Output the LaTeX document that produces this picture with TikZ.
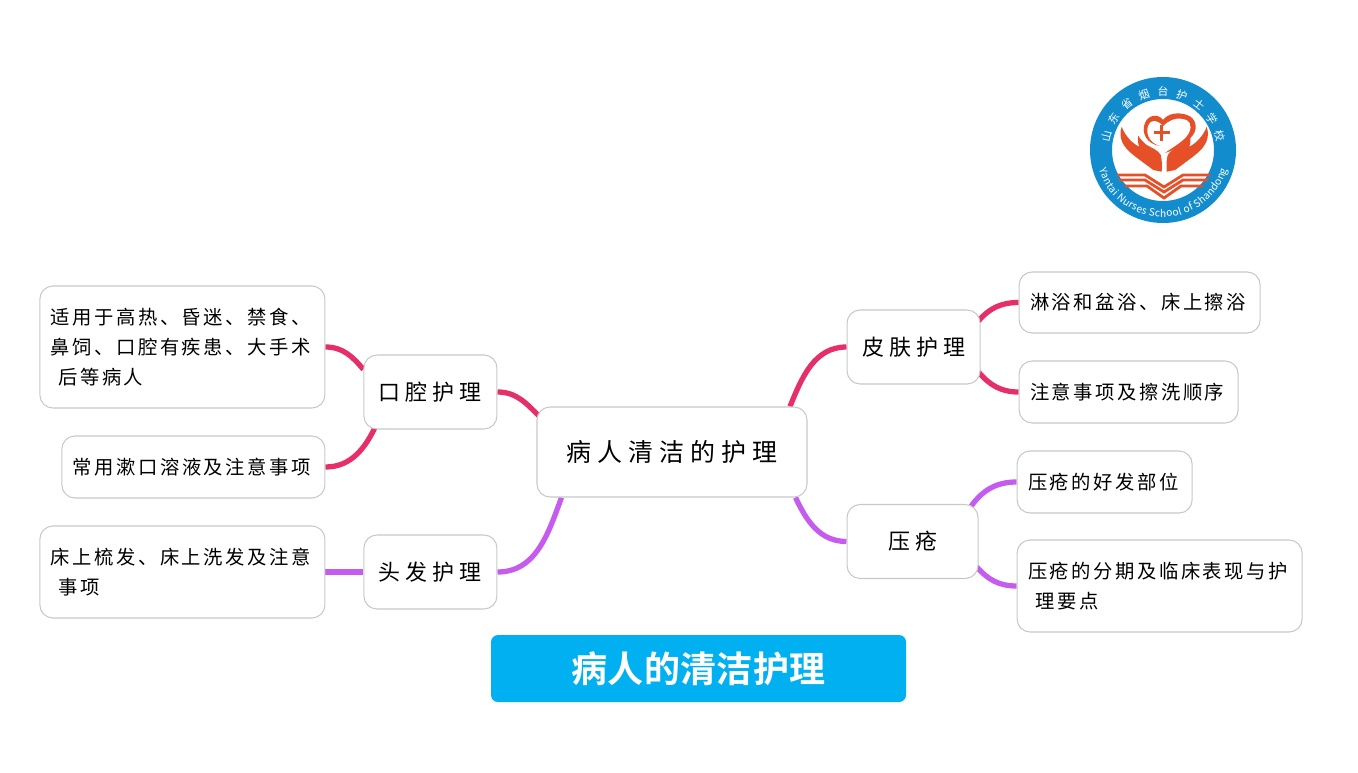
\documentclass[tikz,border=0pt]{standalone}
\usepackage{fontspec}
\setmainfont{Noto Sans CJK SC}
\newfontfamily\leaffont[LetterSpace=13]{Noto Sans CJK SC}
\newfontfamily\midfont[LetterSpace=23]{Noto Sans CJK SC}
\newfontfamily\rootfont[LetterSpace=24]{Noto Sans CJK SC}
\newfontfamily\titlefont[LetterSpace=1]{Noto Sans CJK SC Bold}
\usetikzlibrary{positioning, backgrounds, decorations.text}
\definecolor{linkred}{RGB}{230,46,104}
\definecolor{linkpurple}{RGB}{198,92,238}
\definecolor{boxgray}{RGB}{200,200,200}
\definecolor{titleblue}{RGB}{0,176,240}
\definecolor{logoblue}{RGB}{18,140,205}
\definecolor{logored}{RGB}{230,80,40}

\begin{document}
\begin{tikzpicture}[
        box/.style={rectangle, draw=boxgray, fill=white, line width=0.6pt, rounded corners=0.26cm, inner xsep=0.22cm, inner ysep=0pt},
        rootbox/.style={box, minimum width=5.4cm, minimum height=1.8cm, font=\rootfont\fontsize{14.2}{18}\selectfont},
        midbox/.style={box, minimum width=2.66cm, minimum height=1.48cm, font=\midfont\fontsize{12.5}{16}\selectfont},
        leafbox/.style={box, align=left, font=\leaffont\fontsize{11}{17}\selectfont},
        redlink/.style={draw=linkred, line width=3pt},
        purplelink/.style={draw=linkpurple, line width=3pt},
        badgeline/.style={draw=logored, line width=1.6pt}
    ]
        \useasboundingbox (0,0) rectangle (27.16,-15.44);

        % mind map
        \node[rootbox] (ROOT) at (13.44,-9.04) {病人清洁的护理};
        \node[midbox, left=0.78cm of ROOT, yshift=1.2cm] (MOUTH) {口腔护理};
        \node[midbox, left=0.78cm of ROOT, yshift=-2.4cm] (HAIR) {头发护理};
        \node[midbox, right=0.78cm of ROOT, yshift=2.1cm] (SKIN) {皮肤护理};
        \node[midbox, minimum width=2.62cm, right=0.78cm of ROOT, yshift=-1.79cm] (SORE) {压疮};
        \node[leafbox, text width=5.26cm, minimum height=2.44cm, left=0.76cm of MOUTH, yshift=0.9cm] (MOUTHA) {适用于高热、昏迷、禁食、\\鼻饲、口腔有疾患、大手术\\\hspace{0.15cm}后等病人};
        \node[leafbox, text width=4.82cm, minimum height=1.24cm, left=0.76cm of MOUTH, yshift=-1.5cm] (MOUTHB) {常用漱口溶液及注意事项};
        \node[leafbox, text width=5.26cm, minimum height=1.84cm, left=0.76cm of HAIR] (HAIRA) {床上梳发、床上洗发及注意\\\hspace{0.15cm}事项};
        \node[leafbox, text width=4.38cm, minimum height=1.22cm, right=0.76cm of SKIN, yshift=0.89cm] (SKINA) {淋浴和盆浴、床上擦浴};
        \node[leafbox, text width=3.94cm, minimum height=1.24cm, right=0.76cm of SKIN, yshift=-0.9cm] (SKINB) {注意事项及擦洗顺序};
        \node[leafbox, text width=3.06cm, minimum height=1.24cm, right=0.76cm of SORE, yshift=1.19cm] (SOREA) {压疮的好发部位};
        \node[leafbox, text width=5.26cm, minimum height=1.84cm, right=0.76cm of SORE, yshift=-0.89cm] (SOREB) {压疮的分期及临床表现与护\\\hspace{0.15cm}理要点};

        \begin{scope}[on background layer]
            \draw[redlink] (MOUTH.east) to[out=0, in=135] ([xshift=0.06cm,yshift=-0.2cm]ROOT.north west);
            \draw[redlink] (MOUTHA.east) to[out=0, in=130] ([yshift=-0.3cm]MOUTH.north west);
            \draw[redlink] (MOUTHB.east) to[out=0, in=-115] ([xshift=0.26cm,yshift=0.1cm]MOUTH.south west);
            \draw[purplelink] (HAIR.east) to[out=0, in=-110] ([xshift=0.5cm]ROOT.south west);
            \draw[purplelink] (HAIRA.east) -- (HAIR.west);
            \draw[redlink] (SKIN.west) to[out=180, in=68] ([xshift=-0.35cm]ROOT.north east);
            \draw[redlink] (SKINA.west) to[out=180, in=50] ([xshift=-0.05cm,yshift=-0.24cm]SKIN.north east);
            \draw[redlink] (SKINB.west) to[out=180, in=-50] ([xshift=-0.05cm,yshift=0.26cm]SKIN.south east);
            \draw[purplelink] (SORE.west) to[out=180, in=-65] ([xshift=-0.24cm]ROOT.south east);
            \draw[purplelink] (SOREA.west) to[out=180, in=55] ([xshift=-0.16cm,yshift=-0.06cm]SORE.north east);
            \draw[purplelink] (SOREB.west) to[out=180, in=-50] ([xshift=-0.05cm,yshift=0.26cm]SORE.south east);
        \end{scope}

        % banner
        \node[fill=titleblue, rounded corners=0.14cm, minimum width=8.3cm, minimum height=1.34cm, text=white, font=\titlefont\fontsize{20.5}{24}\selectfont] (TITLE) at (13.97,-13.37) {病人的清洁护理};

        % school badge
        \coordinate (BADGE) at (23.26,-3);
        \draw[logoblue, line width=0.44cm, fill=white] (BADGE) circle (1.24cm);
        \path[decorate, decoration={text along path, text align=fit to path, text={|\fontsize{6.2}{8}\selectfont\color{white}|山东省烟台护士学校}}] ([shift={(172:1.08cm)}]BADGE) arc (172:8:1.08cm);
        \path[decorate, decoration={text along path, text align=fit to path, text={|\fontsize{5.8}{7}\selectfont\color{white}|Yantai Nurses School of Shandong}}] ([shift={(197:1.34cm)}]BADGE) arc (197:343:1.34cm);
        \begin{scope}[shift={(BADGE)}, x=0.02cm, y=-0.02cm]
            % heart
            \fill[logored] (-3,-4) .. controls (-17,-6) and (-22,-18) .. (-18,-27) .. controls (-15,-35) and (-5,-37) .. (0,-30) .. controls (5,-37) and (16,-38) .. (24,-35) .. controls (33,-32) and (35,-22) .. (30,-15) .. controls (24,-7) and (12,0) .. (2,3) .. controls (10,-3) and (22,-9) .. (26,-17) .. controls (30,-25) and (26,-31) .. (20,-31) .. controls (12,-33) and (5,-29) .. (0,-24) .. controls (-5,-30) and (-12,-32) .. (-15,-24) .. controls (-18,-15) and (-12,-6) .. (-3,-4) -- cycle;
            \fill[logored] (-9.3,-18.6) rectangle (6.7,-16);
            \fill[logored] (-2.6,-25.3) rectangle (0,-9.3);
            % hands
            \foreach \handside/\handshift in {1/0, -1/2.4} {
                \begin{scope}[xshift=\handshift*0.02cm, xscale=\handside]
                    \fill[logored] (-41.3,-23.3) .. controls (-45,-12) and (-40,-3) .. (-29.7,5) .. controls (-22,11) and (-15,16) .. (-9.7,20) -- (-1.3,21.7) .. controls (-1,14) and (-1,10) .. (-2.3,5) .. controls (-5,0) and (-11,-2) .. (-16.3,-5) .. controls (-20,-8) and (-23,-11) .. (-24.7,-14.3) .. controls (-25.5,-10) and (-25,-6) .. (-23.7,-3.3) .. controls (-30,-6) and (-38,-14) .. (-41.3,-23.3) -- cycle;
                \end{scope}
            }
            % book
            \draw[badgeline] (-46,25) -- (-18,25) -- (1,37) -- (20,25) -- (47,25);
            \draw[badgeline] (-44,30) -- (-18,30) -- (1,42) -- (20,30) -- (45,30);
            \draw[badgeline] (-38,36) -- (-16,36) -- (1,48) -- (18,36) -- (40,36);
        \end{scope}
    \end{tikzpicture}
\end{document}
